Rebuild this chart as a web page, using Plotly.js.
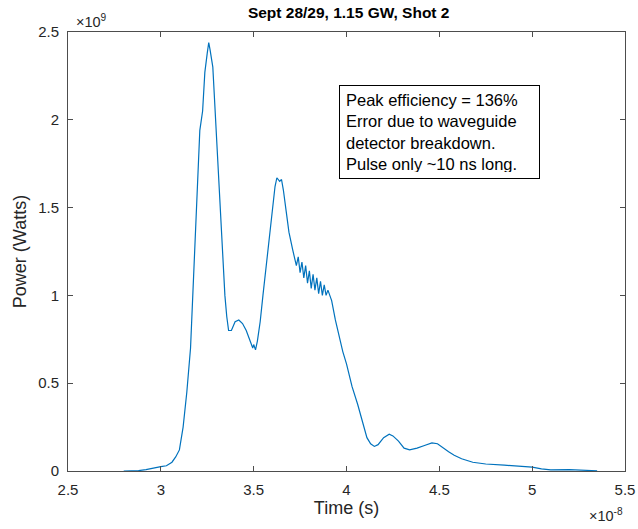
<!DOCTYPE html>
<html>
<head>
<meta charset="utf-8">
<script src="https://cdn.plot.ly/plotly-3.0.1.min.js"></script>
<style>html,body{margin:0;padding:0;background:#fff;}#chart{width:638px;height:529px;}</style>
</head>
<body>
<div id="chart"></div>
<script>
// Time in units of 1e-8 s, power in units of 1e9 W
const timeS = [2.80,2.88,2.92,2.96,3.00,3.03,3.06,3.08,3.10,3.12,3.14,3.16,3.17,3.19,3.20,3.21,3.225,3.237,3.25,3.258,3.265,3.275,3.28,3.29,3.30,3.32,3.335,3.345,3.355,3.365,3.38,3.40,3.42,3.44,3.46,3.48,3.495,3.50,3.51,3.52,3.535,3.55,3.57,3.59,3.60,3.615,3.625,3.64,3.65,3.66,3.675,3.69,3.71,3.72,
3.73,3.74,3.75,3.76,3.77,3.78,3.79,3.80,3.81,3.82,3.83,3.84,3.85,3.86,3.87,3.88,3.89,3.90,
3.92,3.94,3.96,3.98,4.00,4.03,4.06,4.08,4.11,4.13,4.15,4.17,4.20,4.23,4.25,4.28,4.31,4.34,4.38,4.42,4.46,4.49,4.52,4.55,4.58,4.62,4.68,4.75,4.85,4.95,5.00,5.05,5.10,5.20,5.30,5.35];
const powerW = [0,0.002,0.008,0.018,0.025,0.03,0.05,0.08,0.12,0.25,0.45,0.7,0.95,1.45,1.75,1.94,2.05,2.27,2.38,2.44,2.40,2.33,2.30,2.10,1.90,1.47,1.2,1.0,0.88,0.80,0.80,0.85,0.86,0.84,0.80,0.74,0.70,0.72,0.69,0.74,0.85,1.0,1.18,1.38,1.48,1.62,1.67,1.65,1.66,1.60,1.48,1.36,1.26,1.22,
1.17,1.22,1.13,1.19,1.10,1.17,1.07,1.14,1.04,1.12,1.03,1.10,1.01,1.08,1.00,1.06,1.00,1.03,
0.97,0.86,0.76,0.68,0.61,0.48,0.38,0.30,0.19,0.155,0.14,0.15,0.19,0.21,0.20,0.17,0.13,0.12,0.13,0.145,0.16,0.155,0.135,0.11,0.09,0.07,0.05,0.04,0.033,0.025,0.022,0.012,0.006,0.008,0.004,0.001];
const xTicks = [2.5,3,3.5,4,4.5,5,5.5];
const xTickText = ['2.5','3','3.5','4','4.5','5','5.5'];
const yTicks = [0,0.5,1,1.5,2,2.5];
const yTickText = ['0','0.5','1','1.5','2','2.5'];
const titleText = 'Sept 28/29, 1.15 GW, Shot 2';
const noteLines = ['Peak efficiency = 136%','Error due to waveguide','detector breakdown.','Pulse only ~10 ns long.'];

const font = 'Liberation Sans, Arial, sans-serif';
const axisCommon = {
  showline: true, linecolor: '#4d4d4d', linewidth: 1, mirror: 'ticks',
  ticks: 'inside', ticklen: 5, tickcolor: '#4d4d4d', tickwidth: 1,
  showgrid: false, zeroline: false, ticklabelstandoff: 5,
  tickfont: {family: font, size: 15, color: '#262626'}
};
const layout = {
  width: 638, height: 529,
  margin: {l: 68, r: 13, t: 32, b: 58},
  paper_bgcolor: '#fff', plot_bgcolor: '#fff',
  showlegend: false,
  title: {text: '<b>' + titleText + '</b>', x: 0.5465, xanchor: 'center', y: 0.977, yanchor: 'middle',
          font: {family: font, size: 15.5, color: '#000'}},
  xaxis: Object.assign({}, axisCommon, {range: [2.5, 5.5], tickvals: xTicks, ticktext: xTickText,
          title: {text: 'Time (s)', font: {family: font, size: 18, color: '#262626'}, standoff: 4}}),
  yaxis: Object.assign({}, axisCommon, {range: [0, 2.5], tickvals: yTicks, ticktext: yTickText,
          title: {text: 'Power (Watts)', font: {family: font, size: 18, color: '#262626'}, standoff: 6}}),
  annotations: [
    {xref: 'paper', yref: 'paper', x: 0.01, y: 1.0, xanchor: 'left', yanchor: 'bottom', showarrow: false,
     text: '\u00d710<sup>9</sup>', font: {family: font, size: 14.5, color: '#262626'}},
    {xref: 'paper', yref: 'paper', x: 1.0, y: -0.075, xanchor: 'right', yanchor: 'top', showarrow: false,
     text: '\u00d710<sup>-8</sup>', font: {family: font, size: 14.5, color: '#262626'}},
    {xref: 'x', yref: 'y', x: 3.957, y: 2.198, xanchor: 'left', yanchor: 'top', showarrow: false,
     align: 'left', valign: 'middle', width: 187, height: 80,
     text: noteLines.join('<br>'), bordercolor: '#000', borderwidth: 1, borderpad: 6,
     bgcolor: '#fff', font: {family: font, size: 16.5, color: '#000'}}
  ]
};
Plotly.newPlot('chart', [{
  x: timeS, y: powerW, type: 'scatter', mode: 'lines',
  line: {color: '#0072BD', width: 1.2}, hoverinfo: 'skip'
}], layout, {staticPlot: true, displayModeBar: false});
</script>
</body>
</html>
